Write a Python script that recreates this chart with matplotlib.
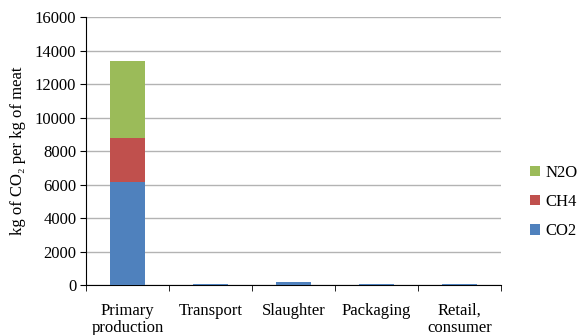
import numpy as np
import matplotlib.pyplot as plt

plt.rcParams['font.family'] = ['Liberation Serif', 'DejaVu Serif']

stages = ['Primary\nproduction', 'Transport', 'Slaughter', 'Packaging', 'Retail,\nconsumer']
co2 = [6150, 80, 160, 80, 80]
ch4 = [2630, 0, 0, 0, 0]
n2o = [4610, 0, 0, 0, 0]

colors = {'CO2': '#4F81BD', 'CH4': '#C0504D', 'N2O': '#9BBB59'}

fig = plt.figure(figsize=(5.79, 3.35), dpi=100)
ax = fig.add_axes([0.1485, 0.149, 0.7165, 0.8])

x = np.arange(len(stages))
w = 0.42
b1 = ax.bar(x, co2, w, color=colors['CO2'], label='CO2', zorder=3)
b2 = ax.bar(x, ch4, w, bottom=co2, color=colors['CH4'], label='CH4', zorder=3)
bot = np.array(co2) + np.array(ch4)
b3 = ax.bar(x, n2o, w, bottom=bot, color=colors['N2O'], label='N2O', zorder=3)

ax.set_xlim(-0.5, len(stages) - 0.5)
ax.set_ylim(0, 16000)
ax.set_yticks(np.arange(0, 16001, 2000))
ax.yaxis.grid(True, color='#b3b3b3', lw=1, zorder=0)

ax.set_xticks(x)
ax.set_xticklabels(stages, fontsize=12, linespacing=1.05)
ax.set_xticks(np.arange(-0.5, len(stages)), minor=True)
ax.tick_params(axis='x', which='major', length=0, pad=13)
ax.tick_params(axis='x', which='minor', length=4, direction='out')
ax.tick_params(axis='y', length=4, direction='out', labelsize=12, pad=3)

for s in ['top', 'right']:
    ax.spines[s].set_visible(False)
ax.spines['left'].set_color('black')
ax.spines['bottom'].set_color('black')

ax.set_ylabel('kg of CO₂ per kg of meat', fontsize=12, labelpad=6)

ax.legend(handles=[b3, b2, b1], labels=['N2O', 'CH4', 'CO2'], frameon=False,
          loc='center left', bbox_to_anchor=(1.035, 0.31), fontsize=12,
          handlelength=0.6, handleheight=0.6, labelspacing=0.8, handletextpad=0.3)

fig.savefig('out.png', dpi=100)
